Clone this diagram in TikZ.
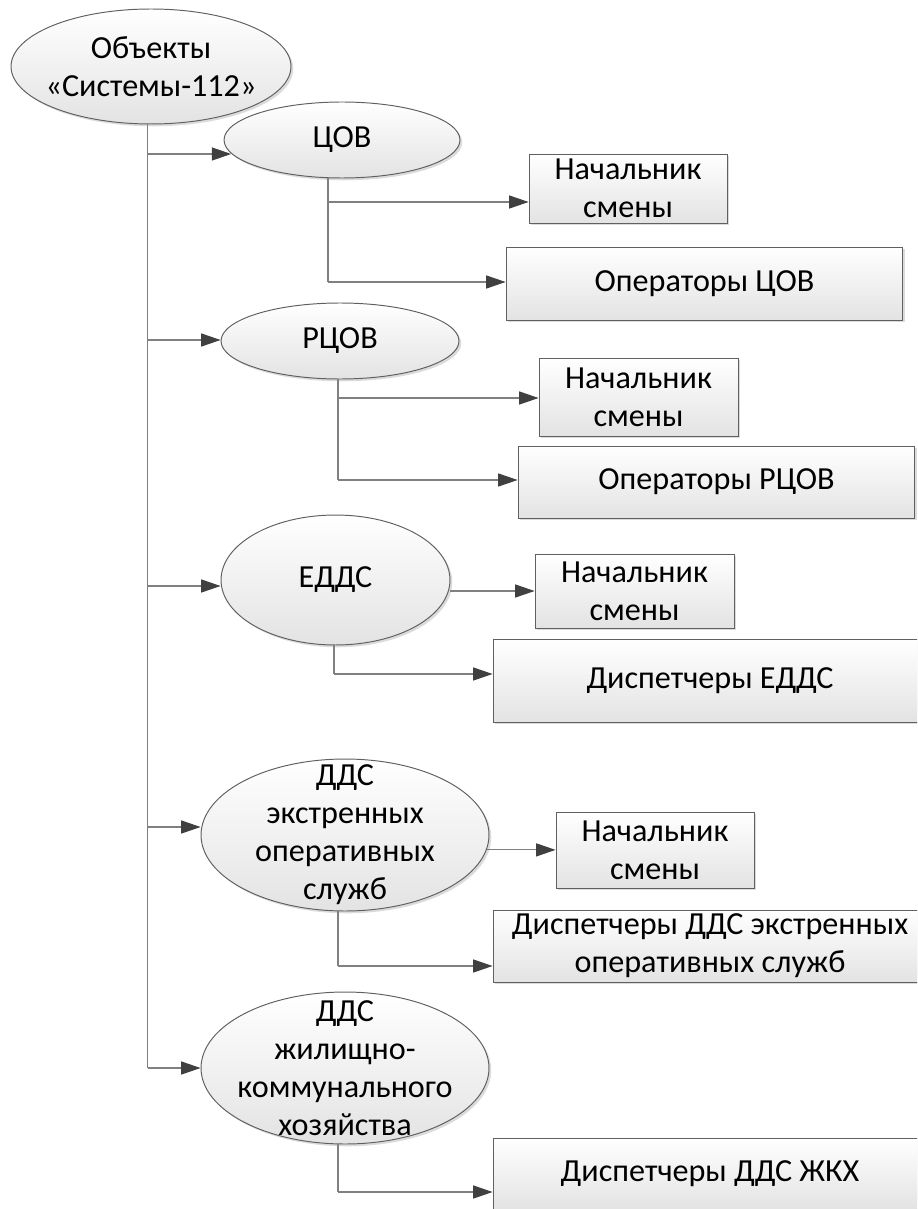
\documentclass[tikz,border=0pt]{standalone}
\usepackage{fontspec}
\setmainfont{Carlito}
\usepackage{tikz}
\usetikzlibrary{shapes,positioning,arrows.meta,shadows}

\definecolor{linegray}{HTML}{808080}
\definecolor{tipgray}{HTML}{404040}
\definecolor{edgegray}{HTML}{606060}

\begin{document}
\begin{tikzpicture}[x=0.02cm,y=-0.02cm,
    every node/.style={font=\fontsize{18.3}{21.6}\selectfont,align=center,inner sep=0pt},
    obj/.style={ellipse,inner sep=-20pt,draw=edgegray,line width=0.55pt,top color=white,bottom color=black!11,
        drop shadow={shadow xshift=1.3pt,shadow yshift=-1.3pt,opacity=0.14,fill=black}},
    unit/.style={rectangle,draw=edgegray,line width=0.55pt,top color=white,bottom color=black!11,
        drop shadow={shadow xshift=1.3pt,shadow yshift=-1.3pt,opacity=0.14,fill=black}},
    wire/.style={draw=linegray,line width=0.6pt},
    link/.style={wire,-{Triangle[length=11pt,width=7.4pt,color=tipgray,fill=tipgray]}}]
            \clip (0,0) rectangle (917,1209);
            % objects
            \node[obj,minimum width=5.6cm,minimum height=2.3cm] (root) at (151,66.5) {Объекты\\«Системы-112»};
            \node[obj,minimum width=4.72cm,minimum height=1.52cm] (cov) at (342,140) {ЦОВ};
            \node[obj,minimum width=4.76cm,minimum height=1.52cm] (rcov) at (340,341) {РЦОВ};
            \node[obj,minimum width=4.58cm,minimum height=2.6cm] (edds) at (335.5,580) {ЕДДС};
            \node[obj,minimum width=5.76cm,minimum height=3.04cm] (dds) at (345,835) {ДДС\\экстренных\\оперативных\\служб};
            \node[obj,minimum width=5.76cm,minimum height=3.04cm] (zhkh) at (345,1068) {ДДС\\жилищно-\\коммунального\\хозяйства};
            % staff
            \node[unit,minimum width=3.96cm,minimum height=1.38cm] (nach1) at (628,188.5) {Начальник\\смены};
            \node[unit,minimum width=7.94cm,minimum height=1.46cm] (oper1) at (704.5,283.5) {Операторы ЦОВ};
            \node[unit,minimum width=3.98cm,minimum height=1.56cm] (nach2) at (638.5,397) {Начальник\\смены};
            \node[unit,minimum width=7.94cm,minimum height=1.44cm] (oper2) at (716.5,482) {Операторы РЦОВ};
            \node[unit,minimum width=3.98cm,minimum height=1.48cm] (nach3) at (634.5,591) {Начальник\\смены};
            \node[unit,minimum width=8.68cm,minimum height=1.66cm] (disp3) at (710,680.5) {Диспетчеры ЕДДС};
            \node[unit,minimum width=3.96cm,minimum height=1.52cm] (nach4) at (655,850) {Начальник\\смены};
            \node[unit,minimum width=8.68cm,minimum height=1.44cm] (disp4) at (710,946) {Диспетчеры ДДС экстренных\\оперативных служб};
            \node[unit,minimum width=8.68cm,minimum height=1.44cm] (disp5) at (710,1174) {Диспетчеры ДДС ЖКХ};
            % trunk
            \coordinate (t1) at (147.5,154);
            \coordinate (t2) at (147.5,340);
            \coordinate (t3) at (147.5,586);
            \coordinate (t4) at (147.5,827);
            \coordinate (t5) at (147.5,1068);
            \draw[wire] (root.south -| t5) -- (t5);
            \draw[link] (t1) -- (t1 -| cov.187);
            \draw[link] (t2) -- (t2 -| rcov.west);
            \draw[link] (t3) -- (t3 -| edds.west);
            \draw[link] (t4) -- (t4 -| dds.west);
            \draw[link] (t5) -- (zhkh.west);
            % branches
            \coordinate (b1) at (328,202);
            \coordinate (c1) at (328,282);
            \draw[wire] (cov.south -| c1) -- (c1);
            \draw[link] (b1) -- (b1 -| nach1.west);
            \draw[link] (c1) -- (c1 -| oper1.west);
            \coordinate (b2) at (338,398);
            \coordinate (c2) at (338,480);
            \draw[wire] (rcov.south -| c2) -- (c2);
            \draw[link] (b2) -- (b2 -| nach2.west);
            \draw[link] (c2) -- (c2 -| oper2.west);
            \coordinate (c3) at (334,674);
            \draw[link] (edds.east |- nach3) -- (nach3.west);
            \draw[wire] (edds.south -| c3) -- (c3);
            \draw[link] (c3) -- (c3 -| disp3.west);
            \coordinate (c4) at (338,966);
            \draw[link] (dds.-6) -- (dds.-6 -| nach4.west);
            \draw[wire] (dds.south -| c4) -- (c4);
            \draw[link] (c4) -- (c4 -| disp4.west);
            \coordinate (c5) at (338,1192);
            \draw[wire] (zhkh.south -| c5) -- (c5);
            \draw[link] (c5) -- (c5 -| disp5.west);
        \end{tikzpicture}
\end{document}
